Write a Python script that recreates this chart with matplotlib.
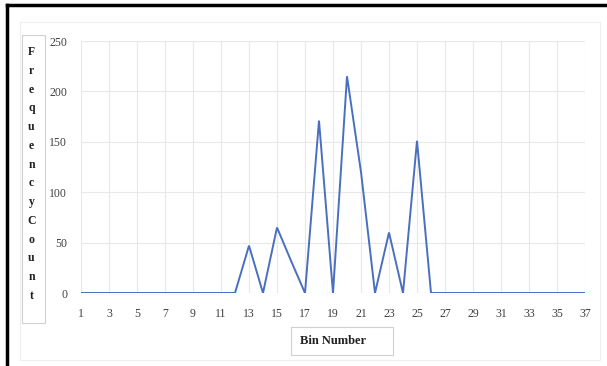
import matplotlib
matplotlib.use("Agg")
import matplotlib.pyplot as plt
from matplotlib.patches import Rectangle

# bin numbers and frequency counts
bins = list(range(1, 38))
counts = [0] * 12 + [47, 0, 65, 32, 0, 171, 0, 215, 120, 0, 60, 0, 151] + [0] * 12
ylabel = "FrequencyCount"
xlabel = "Bin Number"
yticks = [0, 50, 100, 150, 200, 250]

W, H = 607, 366
plt.rcParams["font.family"] = ["Liberation Serif", "DejaVu Serif"]

fig = plt.figure(figsize=(W / 100, H / 100), dpi=100)
fig.patch.set_facecolor("white")

# plot area in pixel coordinates
x0, x1, ytop, ybot = 81, 585, 41, 293
ax = fig.add_axes([x0 / W, (H - ybot) / H, (x1 - x0) / W, (ybot - ytop) / H])
ax.plot(bins, counts, color="#4a6fc0", lw=1.4, solid_joinstyle="miter")
ax.set_xlim(1, 37)
ax.set_ylim(0, 250)
ax.set_xticks(bins[::2])
ax.set_yticks(yticks)
ax.tick_params(length=0, labelsize=8.5, colors="#404040", pad=10)
ax.tick_params(axis="x", pad=11)
ax.grid(True, color="#e8e8e8", lw=0.8)
ax.set_axisbelow(True)
for s in ax.spines.values():
    s.set_visible(False)

def px(x, y):
    return x / W, 1 - y / H

# outer borders: thick black top and left, faint grey chart area
fig.add_artist(plt.Line2D([7 / W, 1], [1 - 5 / H, 1 - 5 / H], color="black", lw=2.5,
                          transform=fig.transFigure))
fig.add_artist(plt.Line2D([7 / W, 7 / W], [0, 1 - 5 / H], color="black", lw=2.5,
                          transform=fig.transFigure))
fig.add_artist(Rectangle(px(20, 360), 580 / W, 338 / H, transform=fig.transFigure,
                         fill=False, ec="#eeeeee", lw=0.8))

# y label box with stacked letters
fig.add_artist(Rectangle(px(22, 323), 23 / W, 288 / H, transform=fig.transFigure,
                         fill=False, ec="#d0d0d0", lw=0.8))
step = (296 - 52) / (len(ylabel) - 1)
for i, ch in enumerate(ylabel):
    fig.text(31.5 / W, 1 - (52 + i * step) / H, ch, ha="center", va="center",
             fontsize=8.5, fontweight="bold", color="#202020")

# x label box
fig.add_artist(Rectangle(px(291, 355), 102 / W, 28 / H, transform=fig.transFigure,
                         fill=False, ec="#d0d0d0", lw=0.8))
fig.text(333 / W, 1 - 341 / H, xlabel, ha="center", va="center",
         fontsize=9, fontweight="bold", color="#202020")

fig.savefig("out.png", dpi=100)
